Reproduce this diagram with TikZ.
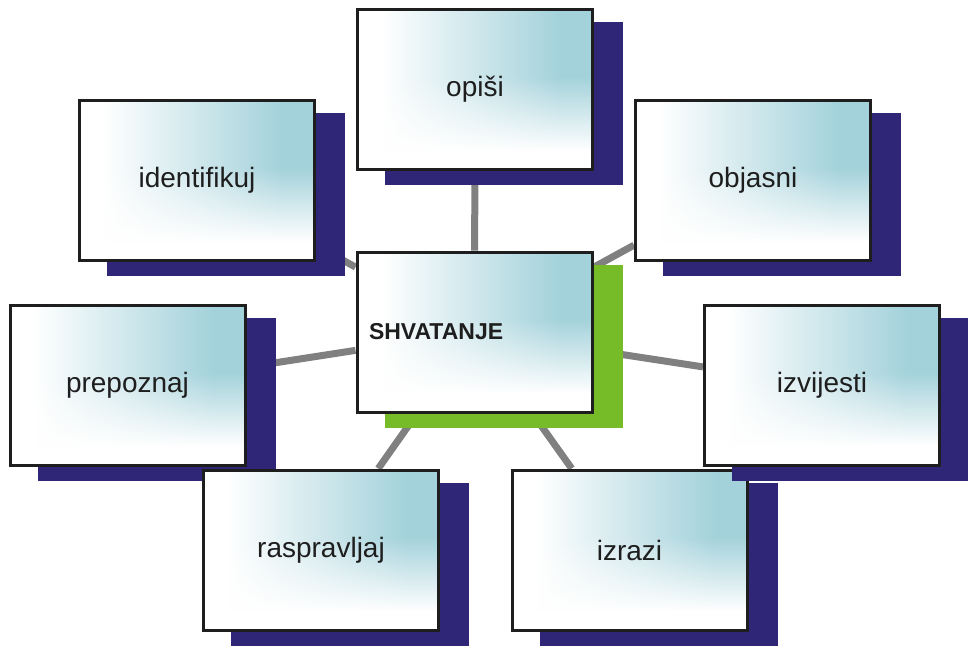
\documentclass[tikz,border=0pt]{standalone}
\usepackage{fontspec}
\setmainfont{Liberation Sans}
\usepackage{xcolor}
\usepackage{tikz}
\usetikzlibrary{shadows,backgrounds,fadings}

\definecolor{boxteal}{RGB}{164,210,219}
\definecolor{shadeblue}{RGB}{47,38,119}
\definecolor{coregreen}{RGB}{118,188,40}
\definecolor{linkgray}{RGB}{128,128,128}
\definecolor{inkgray}{RGB}{30,30,30}

% white on the left, teal on the right
\pgfdeclarehorizontalshading{boxfade}{100bp}{color(0bp)=(white); color(30bp)=(white); color(68bp)=(boxteal); color(100bp)=(boxteal)}
% white mist rising from the bottom
\pgfdeclareverticalshading{boxmistshade}{100bp}{color(0bp)=(pgftransparent!0); color(31bp)=(pgftransparent!0); color(54bp)=(pgftransparent!100); color(100bp)=(pgftransparent!100)}
\pgfdeclarefading{boxmist}{\pgfuseshading{boxmistshade}}

\begin{document}
\begin{tikzpicture}[x=1pt,y=-1pt,
  box/.style={draw=inkgray,line width=3pt,minimum width=235pt,minimum height=160pt,inner sep=0pt,
    shading=boxfade,text=inkgray,font=\fontsize{28}{32}\selectfont,
    path picture={\fill[white,path fading=boxmist] (path picture bounding box.south west) rectangle (path picture bounding box.north east);}},
  outerbox/.style={box,general shadow={shadow xshift=29pt,shadow yshift=-14pt,fill=shadeblue,draw=shadeblue,line width=3pt}},
  corebox/.style={box,general shadow={shadow xshift=29pt,shadow yshift=-14pt,fill=coregreen,draw=coregreen,line width=3pt},
    align=left,text width=211pt,inner xsep=12pt,font=\fontsize{23}{27}\selectfont\bfseries},
  link/.style={draw=linkgray,line width=7pt}]

\useasboundingbox (0,0) rectangle (968,646);

% outer boxes
\node[outerbox] (identifikuj) at (197,180.5) {identifikuj};
\node[outerbox] (opisi) at (475,89.5) {opiši};
\node[outerbox] (objasni) at (753,180.5) {objasni};
\node[outerbox] (prepoznaj) at (127.5,385.5) {prepoznaj};
\node[outerbox] (raspravljaj) at (321,550) {raspravljaj};
\node[outerbox] (izrazi) at (629.5,550) {izrazi};
\node[outerbox] (izvijesti) at (822,385) {izvijesti};

% centre box
\node[corebox] (shvatanje) at (474.5,332) {SHVATANJE};

% spokes
\begin{pgfonlayer}{background}
\draw[link] (shvatanje) -- (identifikuj);
\draw[link] (shvatanje) -- (opisi);
\draw[link] (shvatanje) -- (objasni);
\draw[link] (shvatanje) -- (prepoznaj);
\draw[link] (shvatanje) -- (izvijesti);
\draw[link] (shvatanje) -- (raspravljaj);
\draw[link] (shvatanje) -- (izrazi);
\end{pgfonlayer}
\end{tikzpicture}
\end{document}
